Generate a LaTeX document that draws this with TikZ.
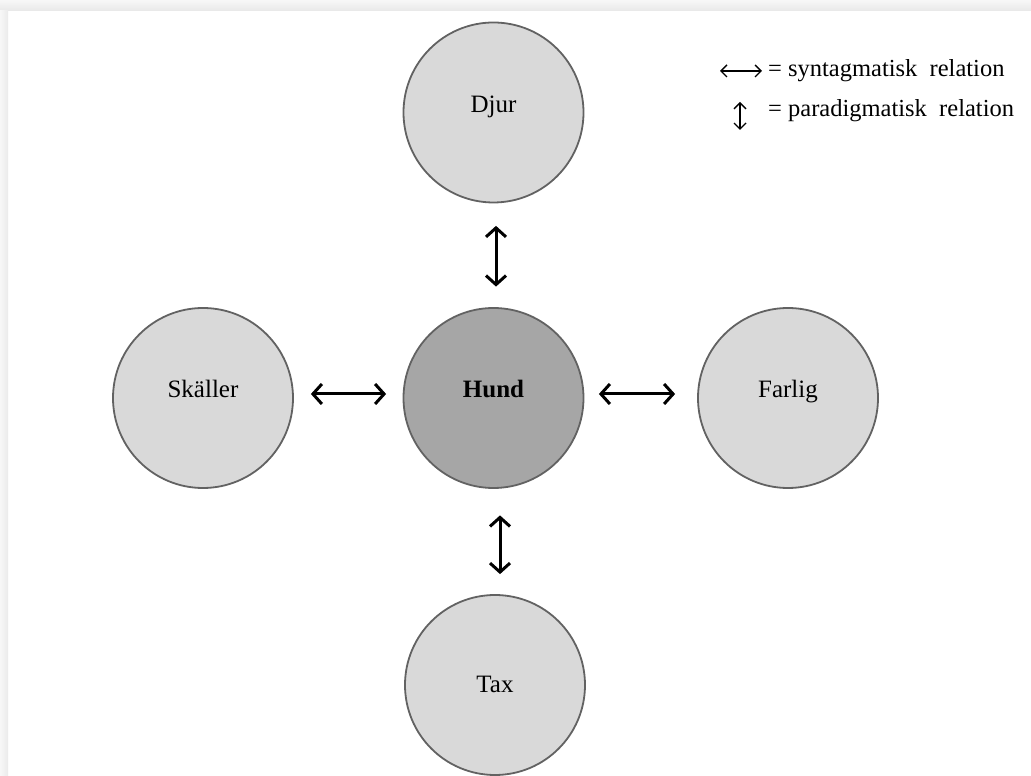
\documentclass[tikz,border=0pt]{standalone}
\usepackage{fontspec}
\setmainfont{Liberation Serif}
\usetikzlibrary{arrows.meta,positioning}

\definecolor{wordfill}{HTML}{D9D9D9}
\definecolor{headfill}{HTML}{A6A6A6}
\definecolor{wordline}{HTML}{626262}

\begin{document}
\begin{tikzpicture}[
      x=1pt, y=1pt, line cap=round, line join=round,
      font=\fontsize{24.5}{28}\selectfont,
      word/.style={circle, draw=wordline, line width=1.8pt,
        fill=wordfill, minimum size=\circD pt, inner sep=0pt,
        font=\fontsize{25}{28}\selectfont,
        text height=8pt, text depth=8pt},
      rel/.style={line width=3pt,
        {Straight Barb[length=9pt,width=20pt]}-{Straight Barb[length=9pt,width=20pt]}},
      key/.style={line width=1.4pt,
        {Straight Barb[length=6pt,width=12pt]}-{Straight Barb[length=6pt,width=12pt]}}
    ]

    % ------------------ Layout ------------------
    \def\picW{1031}
    \def\picH{776}
    \def\circD{180}
    \def\midX{493.5}
    \def\rowY{378}

    \useasboundingbox (0,0) rectangle (\picW,\picH);

    % ------------------ Frame shadow ------------------
    \shade[top color=black!3, bottom color=black!9]
    (0,\picH-11) rectangle (\picW,\picH);
    \shade[left color=black!3, right color=black!8]
    (0,0) rectangle (8,\picH-11);

    % ------------------ Word circles ------------------
    \node[word] (djur) at (\midX, 663.5) {Djur};
    \node[word, fill=headfill] (hund) at (\midX, \rowY) {\textbf{Hund}};
    \node[word] (skaller) at (203, \rowY) {Skäller};
    \node[word] (farlig) at (788, \rowY) {Farlig};
    \node[word, text height=16pt, text depth=0pt] (tax) at (495, 91) {Tax};

    % ------------------ Relations ------------------
    \draw[rel, shorten <=22.5pt, shorten >=20.5pt]
    ([xshift=2.5pt]djur.south) -- ([xshift=2.5pt]hund.north);
    \draw[rel, shorten <=26.5pt, shorten >=20pt]
    ([xshift=6.5pt]hund.south) -- ([xshift=5pt]tax.north);
    \draw[rel, shorten <=17pt, shorten >=16.5pt]
    ([yshift=4pt]skaller.east) -- ([yshift=4pt]hund.west);
    \draw[rel, shorten <=14.5pt, shorten >=22pt]
    ([yshift=4pt]hund.east) -- ([yshift=4pt]farlig.west);

    % ------------------ Legend ------------------
    \node[anchor=base west, inner sep=0pt] (synt) at (768, 699)
    {= syntagmatisk\ \ relation};
    \node[anchor=base west, inner sep=0pt] (para) at (768, 659)
    {= paradigmatisk\ \ relation};

    \draw[key] ([xshift=-48pt,yshift=6pt]synt.base west)
    -- ([xshift=-6pt,yshift=6pt]synt.base west);
    \draw[key] ([xshift=-28pt,yshift=15pt]para.base west)
    -- ([xshift=-28pt,yshift=-13pt]para.base west);

  \end{tikzpicture}
\end{document}
